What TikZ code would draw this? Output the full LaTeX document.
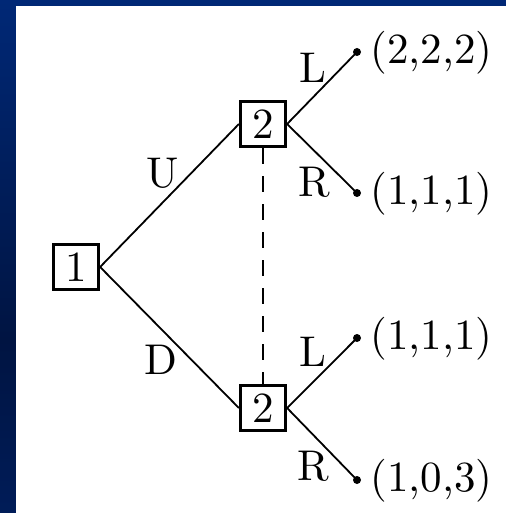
\documentclass[tikz,border=0pt]{standalone}
\usepackage{tikz}
\usepackage{graphicx}
\definecolor{bgA}{RGB}{0,40,118}
\definecolor{bgB}{RGB}{0,20,66}
\definecolor{bgC}{RGB}{0,28,88}
\newcommand{\bigtxt}[1]{\scalebox{2.15}{#1}}
\tikzset{
  player/.style={draw, line width=1.6pt, minimum size=22.5pt, inner sep=0pt},
  lbl/.style={inner sep=0pt},
  payoff/.style={anchor=west, inner sep=0pt},
  leaf/.style={circle, fill=black, inner sep=0pt, minimum size=4pt},
  branch/.style={line width=0.9pt},
  info/.style={line width=1.2pt, dash pattern=on 8pt off 6pt}
}
\begin{document}
\begin{tikzpicture}[x=0.5pt, y=-0.5pt]
\useasboundingbox (0,0) rectangle (506,513);
\shade[top color=bgA, bottom color=bgB] (0,0) rectangle (506,340);
\shade[top color=bgB, bottom color=bgC] (0,339.5) rectangle (506,513);
\fill[white] (16,6) rectangle (506,513);
\node[player] (n1) at (76,267) {\bigtxt{1}};
\node[player] (n2a) at (263,124) {\bigtxt{2}};
\node[player] (n2b) at (263,408) {\bigtxt{2}};
\node[leaf] (t1) at (357,52) {};
\node[leaf] (t2) at (357,193) {};
\node[leaf] (t3) at (357,338) {};
\node[leaf] (t4) at (357,480) {};
\node[payoff] (p1) at (370,53) {\bigtxt{(2,2,2)}};
\node[payoff] (p2) at (370,194) {\bigtxt{(1,1,1)}};
\node[payoff] (p3) at (370,339) {\bigtxt{(1,1,1)}};
\node[payoff] (p4) at (370,481) {\bigtxt{(1,0,3)}};
\draw[branch] (n1.east) -- (n2a.west);
\draw[branch] (n1.east) -- (n2b.west);
\draw[branch] (n2a.east) -- (t1.center);
\draw[branch] (n2a.east) -- (t2.center);
\draw[branch] (n2b.east) -- (t3.center);
\draw[branch] (n2b.east) -- (t4.center);
\draw[info] (n2a.south) -- (n2b.north);
\node[lbl] (lu) at (163,173) {\bigtxt{U}};
\node[lbl] (ld) at (161,360) {\bigtxt{D}};
\node[lbl] (l1) at (313,68) {\bigtxt{L}};
\node[lbl] (r1) at (314,182) {\bigtxt{R}};
\node[lbl] (l2) at (313,352) {\bigtxt{L}};
\node[lbl] (r2) at (313,466) {\bigtxt{R}};
\end{tikzpicture}
\end{document}
